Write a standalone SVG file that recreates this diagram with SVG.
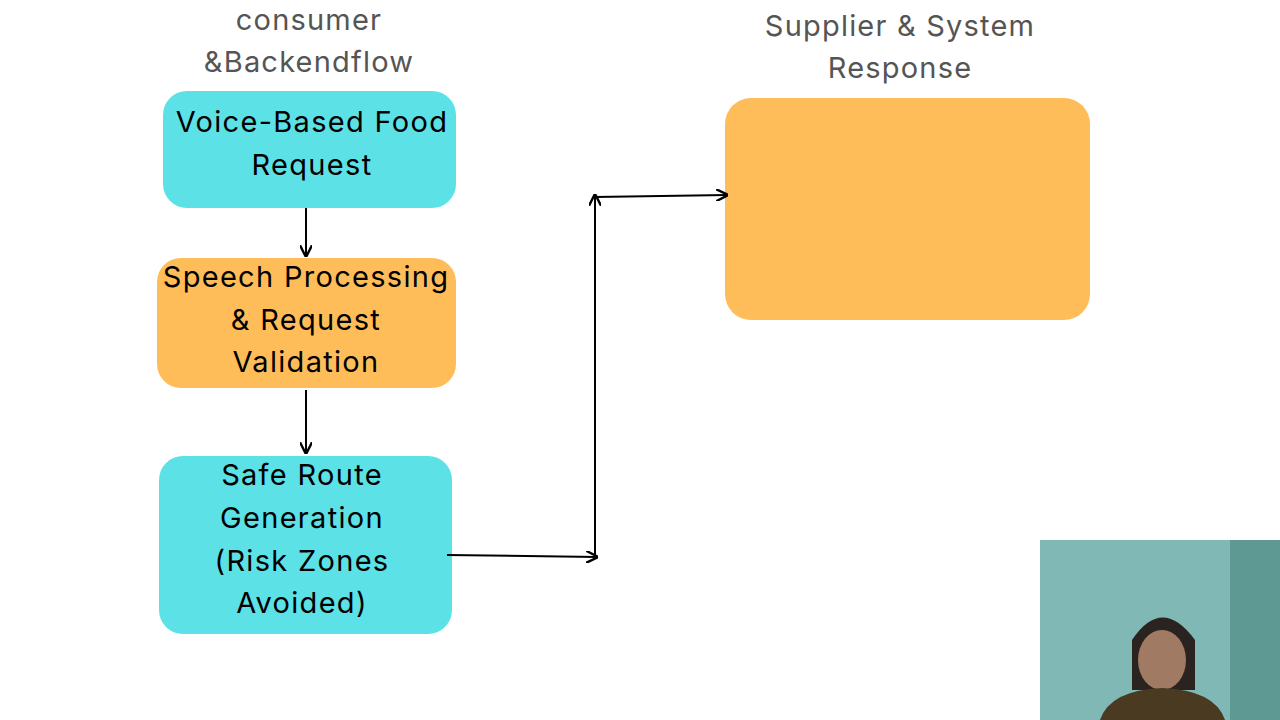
<svg xmlns="http://www.w3.org/2000/svg" width="1280" height="720" viewBox="0 0 1280 720">
<style>
.t{font-family:Inter,"Open Sans","Liberation Sans",sans-serif;font-size:29px;letter-spacing:1.3px;fill:#000;text-anchor:middle}
.h{font-family:Inter,"Open Sans","Liberation Sans",sans-serif;font-size:29px;letter-spacing:1.2px;fill:#555;text-anchor:middle}
.c{fill:#5CE1E6}.o{fill:#FFBD59}
.l{stroke:#000;stroke-width:2;fill:none}
</style>
<defs><marker id="a" viewBox="0 0 10 10" refX="9" refY="5" markerWidth="6" markerHeight="6" orient="auto"><path d="M0,0 L10,5 L0,10" fill="none" stroke="#000" stroke-width="2"/></marker></defs>
<rect width="1280" height="720" fill="#fff"/>
<text class="h" x="309" y="30">consumer</text>
<text class="h" x="309" y="72">&amp;Backendflow</text>
<text class="h" x="900" y="36">Supplier &amp; System</text>
<text class="h" x="900" y="78">Response</text>
<g id="n1"><rect class="c" x="163" y="91" width="293" height="117" rx="24"/><text class="t" x="312" y="132">Voice-Based Food</text><text class="t" x="312" y="175">Request</text></g>
<g id="n2"><rect class="o" x="157" y="258" width="299" height="130" rx="24"/><text class="t" x="306" y="287">Speech Processing</text><text class="t" x="306" y="330">&amp; Request</text><text class="t" x="306" y="372">Validation</text></g>
<g id="n3"><rect class="c" x="159" y="456" width="293" height="178" rx="24"/><text class="t" x="302" y="485">Safe Route</text><text class="t" x="302" y="528">Generation</text><text class="t" x="302" y="571">(Risk Zones</text><text class="t" x="302" y="613">Avoided)</text></g>
<g id="n4"><rect class="o" x="725" y="98" width="365" height="222" rx="26"/></g>
<g id="connectors">
<path class="l" d="M306,208 L306,256" marker-end="url(#a)"/>
<path class="l" d="M306,390 L306,453" marker-end="url(#a)"/>
<path class="l" d="M447,555 L597,557" marker-end="url(#a)"/>
<path class="l" d="M595,557 L595,195" marker-end="url(#a)"/>
<path class="l" d="M595,197 L727,195" marker-end="url(#a)"/>
</g>
<g id="webcam">
<rect x="1040" y="540" width="240" height="180" fill="#7fb8b4"/>
<rect x="1230" y="540" width="50" height="180" fill="#5f9994"/>
<path d="M1132,640 Q1162,595 1195,640 L1195,690 L1132,690 Z" fill="#2a2320"/>
<ellipse cx="1162" cy="660" rx="24" ry="30" fill="#a07a62"/>
<path d="M1100,720 Q1110,690 1162,688 Q1215,690 1225,720 Z" fill="#4a3a22"/>
</g>
</svg>
